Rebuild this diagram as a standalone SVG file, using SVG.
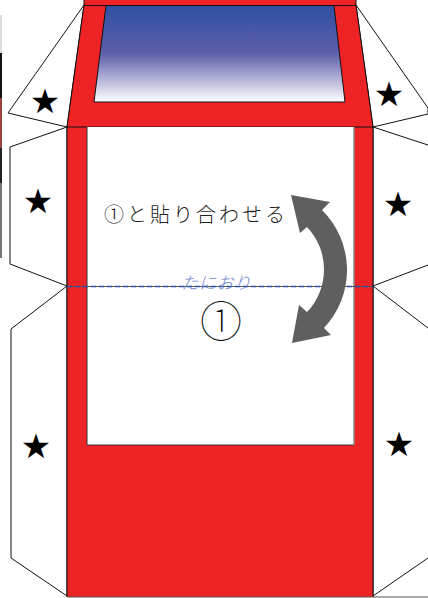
<svg xmlns="http://www.w3.org/2000/svg" width="428" height="598" viewBox="0 0 428 598">
<style>
.flap{fill:#fff;stroke:#111;stroke-width:1}
.star{font-family:"DejaVu Sans",sans-serif;font-size:34px;fill:#000;text-anchor:middle}
.jp{font-family:"Noto Sans CJK JP",sans-serif;font-weight:300}
.thin{font-family:"Noto Sans CJK JP",sans-serif;font-weight:100}
</style>
<defs><linearGradient id="g" x1="0" y1="0" x2="0" y2="1"><stop offset="0" stop-color="#2f4fa2"/><stop offset="0.5" stop-color="#5f5fab"/><stop offset="1" stop-color="#fff"/></linearGradient></defs>
<rect width="428" height="598" fill="#fff"/>
<g id="scrap"><rect x="0" y="15" width="2" height="38" fill="#ddd"/><rect x="0" y="53" width="2" height="45" fill="#111"/><rect x="0" y="98" width="2" height="50" fill="#99433f"/><rect x="0" y="148" width="2" height="35" fill="#222"/><rect x="0" y="183" width="2" height="75" fill="#777"/></g>
<g id="flaps">
<path class="flap" d="M84 5L8 113L67 127Z"/>
<path class="flap" d="M356 5L428 108V114L373 127Z"/>
<path class="flap" d="M67 127L10 147V264L67 286Z"/>
<path class="flap" d="M67 286L11 329V558L67 596Z"/>
<path class="flap" d="M428 145L373 127V286L428 265"/>
<path class="flap" d="M428 328L373 286V596L428 558"/>
</g>
<g id="body">
<path d="M84 0H356V5L373 127V597H67V127L84 5Z" fill="#ee2326"/>
<path d="M84 0V5L67 127V597M356 0V5L373 127V597M84 5.500H356M67 127H373" fill="none" stroke="#111" stroke-width="1"/>
<path d="M67 597H428" stroke="#555" stroke-width="1"/>
<path d="M106 5.500H334L345 102H94Z" fill="url(#g)" stroke="#111" stroke-width="1"/>
<rect x="87" y="127" width="267" height="318" fill="#fff"/>
<path d="M87 127V445H354" fill="none" stroke="#333" stroke-width="1"/>
<path d="M354 127V445" stroke="#888" stroke-width="1.500"/>
</g>
<g id="connectors">
<path d="M67 286.500H373" stroke="#555" stroke-width="1"/>
<path d="M67 286.500H373" stroke="#2f4fa2" stroke-width="1.500" stroke-dasharray="5 3"/>
<path d="M291 195L330 202L322 210A84.500 84.500 0 0 1 324 328L331 335L292 343L299 305L307 312A61.600 61.600 0 0 0 307 227L300 233Z" fill="#5f5f5f"/>
</g>
<g id="stars">
<text class="star" x="45" y="113">★</text>
<text class="star" x="38" y="213">★</text>
<text class="star" x="36" y="458">★</text>
<text class="star" x="389" y="106">★</text>
<text class="star" x="398" y="216">★</text>
<text class="star" x="399" y="456">★</text>
</g>
<g id="labels">
<text class="jp" x="104" y="222" font-size="20" letter-spacing="3" fill="#222">①と貼り合わせる</text>
<text class="jp" x="181" y="289" font-size="17" letter-spacing="0.700" fill="#6f86c9" font-style="italic">たにおり</text>
<text class="thin" x="221" y="337" font-size="42" fill="#111" text-anchor="middle">①</text>
</g>
</svg>
